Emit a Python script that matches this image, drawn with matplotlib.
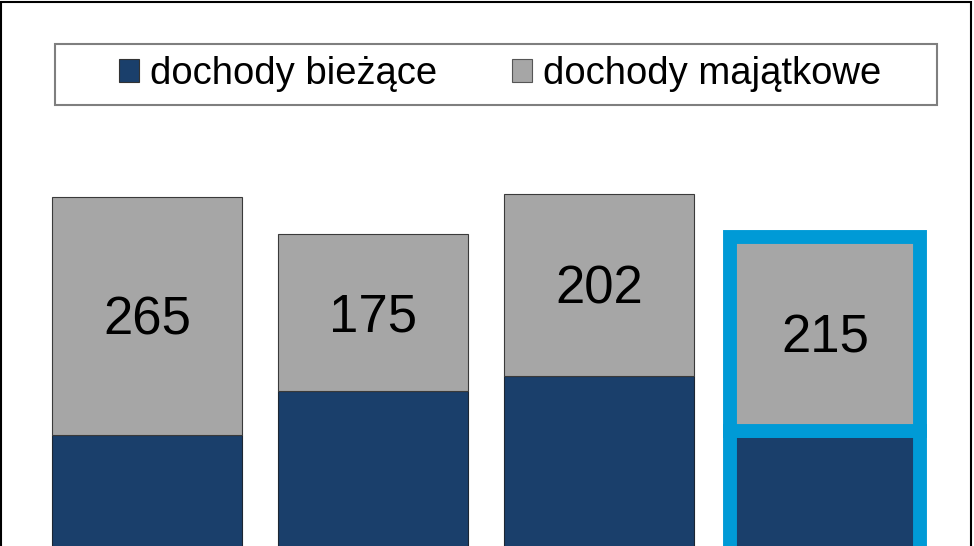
import matplotlib
matplotlib.use("Agg")
import matplotlib.pyplot as plt
from matplotlib.patches import Rectangle, Patch

plt.rcParams['font.family'] = ['Liberation Sans', 'DejaVu Sans']

series_names = ["dochody bieżące", "dochody majątkowe"]
categories = ["A", "B", "C", "D"]
biezace = [600, 649, 666, 605]       # lower segments (cut off in the reference; estimated)
majatkowe = [265, 175, 202, 215]     # labelled upper segments
highlight = [False, False, False, True]

dark = "#1a3f6b"
gray = "#a6a6a6"
blue = "#009ad6"

W, H = 974, 546
fig = plt.figure(figsize=(W / 100, H / 100), dpi=100)
ax = fig.add_axes([0, 0, 1, 1])
ax.set_axis_off()

x = list(range(len(categories)))
width = 0.84
for i in x:
    if highlight[i]:
        ec, lw = blue, 10
    else:
        ec, lw = "#1c2633", 0.8
    ax.bar(i, biezace[i], width=width, color=dark, edgecolor=ec, linewidth=lw)
    ax.bar(i, majatkowe[i], bottom=biezace[i], width=width, color=gray,
           edgecolor=ec if highlight[i] else "#3a3a3a", linewidth=lw)
    ax.annotate(str(majatkowe[i]), (i, biezace[i] + majatkowe[i] / 2),
                xytext=(0, -3.5), textcoords="offset points",
                ha="center", va="center", fontsize=38, color="black")

s = 0.898
ax.set_ylim(600 - 111 / s, 600 + 435 / s)
ax.set_xlim(-147 / 226, (W - 147) / 226)

# outer frame
fig.patches.append(Rectangle((1 / W, -0.1), 970 / W, 1.1 - 1.5 / H,
                             transform=fig.transFigure, fill=False,
                             edgecolor="black", linewidth=1.5))
# legend frame
fig.patches.append(Rectangle((55 / W, 1 - 105 / H), 882 / W, 61 / H,
                             transform=fig.transFigure, fill=True, facecolor="white",
                             edgecolor="#7f7f7f", linewidth=1.5, zorder=5))

handles = [Patch(facecolor=dark, edgecolor="#333333", linewidth=0.8),
           Patch(facecolor=gray, edgecolor="#555555", linewidth=0.8)]
leg = fig.legend(handles, series_names, loc="center",
                 bbox_to_anchor=(500 / W, 1 - 74 / H), ncol=2, frameon=False,
                 fontsize=27.5, handlelength=0.52, handleheight=0.58,
                 handletextpad=0.3, columnspacing=1.95, borderpad=0)
leg.set_zorder(6)

fig.savefig("out.png", dpi=100)
